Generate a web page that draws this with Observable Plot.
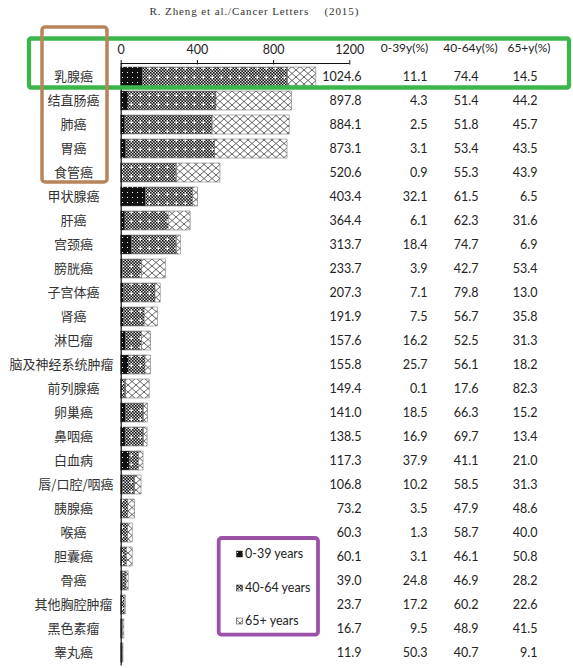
<!DOCTYPE html>
<html><head><meta charset="utf-8">
<script src="https://cdn.jsdelivr.net/npm/d3@7"></script>
<script src="https://cdn.jsdelivr.net/npm/@observablehq/plot@0.6"></script>
<style>
html,body{margin:0;padding:0;background:#fff;}
#chart{width:573px;height:668px;position:relative;}
</style></head><body><div id="chart"></div>
<script>
// ---- data ----
const cancers = ["乳腺癌","结直肠癌","肺癌","胃癌","食管癌","甲状腺癌","肝癌","宫颈癌","膀胱癌","子宫体癌","肾癌","淋巴瘤","脑及神经系统肿瘤","前列腺癌","卵巢癌","鼻咽癌","白血病","唇/口腔/咽癌","胰腺癌","喉癌","胆囊癌","骨癌","其他胸腔肿瘤","黑色素瘤","睾丸癌"];
const totals = [1024.6,897.8,884.1,873.1,520.6,403.4,364.4,313.7,233.7,207.3,191.9,157.6,155.8,149.4,141.0,138.5,117.3,106.8,73.2,60.3,60.1,39.0,23.7,16.7,11.9];
const pct0_39 = [11.1,4.3,2.5,3.1,0.9,32.1,6.1,18.4,3.9,7.1,7.5,16.2,25.7,0.1,18.5,16.9,37.9,10.2,3.5,1.3,3.1,24.8,17.2,9.5,50.3];
const pct40_64 = [74.4,51.4,51.8,53.4,55.3,61.5,62.3,74.7,42.7,79.8,56.7,52.5,56.1,17.6,66.3,69.7,41.1,58.5,47.9,58.7,46.1,46.9,60.2,48.9,40.7];
const pct65 = [14.5,44.2,45.7,43.5,43.9,6.5,31.6,6.9,53.4,13.0,35.8,31.3,18.2,82.3,15.2,13.4,21.0,31.3,48.6,40.0,50.8,28.2,22.6,41.5,9.1];
const ageGroups = ["0-39 years","40-64 years","65+ years"];
const headers = ["0-39y(%)","40-64y(%)","65+y(%)"];
const xTicks = [0,400,800,1200];
const citation = "R. Zheng et al./Cancer Letters";
const citationYear = "(2015)";

// ---- derived tables ----
const pcts = [pct0_39, pct40_64, pct65];
const rows = cancers.map((name, i) => ({name, total: totals[i], p: pcts.map(a => a[i])}));
const segments = rows.flatMap(r => ageGroups.map((g, k) => ({name: r.name, group: g, value: r.total * r.p[k] / 100})));

// ---- layout ----
const W = 573, H = 668, ML = 120.7, MR = 223.7, MT = 63.5, MB = 2.5;
const RIGHT = W - MR;
const numFont = "Lato, 'Open Sans', sans-serif";
const cjkFont = "'Noto Sans CJK SC', sans-serif";
const serifFont = "'Liberation Serif', serif";
const colRight = [361, 427, 478, 537];
const headerCenter = [404, 470, 528.5];

const plot = Plot.plot({
  width: W, height: H,
  marginLeft: ML, marginRight: MR, marginTop: MT, marginBottom: MB,
  style: {fontFamily: numFont, fontSize: "12.5px", color: "#222", background: "white", overflow: "visible"},
  x: {domain: [0, 1200]},
  y: {domain: cancers, paddingInner: 0.21, paddingOuter: 0.105, axis: null},
  color: {domain: ageGroups, range: ["url(#pat0)", "url(#pat1)", "url(#pat2)"]},
  marks: [
    Plot.barX(segments, Plot.stackX({x: "value", y: "name", fill: "group", stroke: "#666", strokeWidth: 0.5})),
    Plot.ruleX([0], {stroke: "#111", strokeWidth: 1.2}),
    Plot.axisX(xTicks, {anchor: "top", tickSize: 4.5, tickPadding: 6, label: null, tickFormat: d => String(d), fontSize: 12.5, stroke: "#111", fill: "#222"}),
    // category labels
    Plot.text(cancers, {filter: d => d.length < 7, y: d => d, text: d => d, frameAnchor: "left", dx: 73 - ML, textAnchor: "middle", fontFamily: cjkFont, fontSize: 13, fill: "#333"}),
    Plot.text(cancers, {filter: d => d.length >= 7, y: d => d, text: d => d, frameAnchor: "left", dx: 113 - ML, textAnchor: "end", fontFamily: cjkFont, fontSize: 13, fill: "#333"}),
    // value columns
    Plot.text(rows, {y: "name", text: d => d.total.toFixed(1), frameAnchor: "right", dx: colRight[0] - RIGHT, textAnchor: "end", fill: "#222"}),
    ...[0, 1, 2].map(k => Plot.text(rows, {y: "name", text: d => d.p[k].toFixed(1), frameAnchor: "right", dx: colRight[k + 1] - RIGHT, textAnchor: "end", fill: "#222"})),
    // headers
    ...headers.map((h, k) => Plot.text([h], {frameAnchor: "top-right", dx: headerCenter[k] - RIGHT, dy: 47.5 - MT, textAnchor: "middle", lineAnchor: "middle", fontSize: 12, fill: "#222"})),
    // citation
    Plot.text([citation], {frameAnchor: "top-left", dx: 149 - ML, dy: 10.7 - MT, textAnchor: "start", lineAnchor: "middle", fontFamily: serifFont, fontSize: 11, fill: "#333"}),
    Plot.text([citationYear], {frameAnchor: "top-left", dx: 324 - ML, dy: 10.7 - MT, textAnchor: "start", lineAnchor: "middle", fontFamily: serifFont, fontSize: 11, fill: "#333"})
  ]
});

const svg = d3.select(plot);
// widen the citation like the monospaced original
svg.selectAll("text").filter(function() { return this.textContent === citation || this.textContent === citationYear; })
  .attr("letter-spacing", "0.9px");

// pattern definitions
const defs = svg.insert("defs", ":first-child");
// 0-39: black with sparse white dots
const p0 = defs.append("pattern").attr("id", "pat0").attr("patternUnits", "userSpaceOnUse").attr("width", 5).attr("height", 5);
p0.append("rect").attr("width", 5).attr("height", 5).attr("fill", "#111");
p0.append("rect").attr("x", 2).attr("y", 2).attr("width", 1).attr("height", 1).attr("fill", "#fff");
// 40-64: fine checker with white crosses
const c = 1.5, n = 6;
const p1 = defs.append("pattern").attr("id", "pat1").attr("patternUnits", "userSpaceOnUse").attr("width", c * n).attr("height", c * n);
p1.append("rect").attr("width", c * n).attr("height", c * n).attr("fill", "#111");
const plus = new Set(["2,3", "3,2", "3,3", "3,4", "4,3"]);
for (let i = 0; i < n; i++) for (let j = 0; j < n; j++) {
  if (plus.has(i + "," + j)) {
    p1.append("rect").attr("x", i * c).attr("y", j * c).attr("width", c).attr("height", c).attr("fill", "#fff");
  } else if ((i + j) % 2 === 1) {
    p1.append("rect").attr("x", i * c + 0.08).attr("y", j * c + 0.08).attr("width", 1.34).attr("height", 1.34).attr("fill", "#fff");
  }
}
// 65+: diagonal lattice
const p2 = defs.append("pattern").attr("id", "pat2").attr("patternUnits", "userSpaceOnUse").attr("width", 8).attr("height", 7);
p2.append("rect").attr("width", 8).attr("height", 7).attr("fill", "#fff");
p2.append("path").attr("d", "M0,0L8,7M8,0L0,7").attr("stroke", "#555").attr("stroke-width", 0.9).attr("fill", "none");

const x = plot.scale("x");
// top axis line
svg.append("line").attr("x1", x.apply(0)).attr("x2", x.apply(1200)).attr("y1", MT).attr("y2", MT).attr("stroke", "#111").attr("stroke-width", 1);

// legend
const leg = svg.append("g").attr("font-family", numFont).attr("font-size", 12.5).attr("fill", "#222").attr("text-anchor", "start");
const legY = [554, 588, 621];
ageGroups.forEach((g, k) => {
  leg.append("rect").attr("x", 236.5).attr("y", legY[k] - 3).attr("width", 6).attr("height", 6).attr("fill", `url(#pat${k})`).attr("stroke", "#333").attr("stroke-width", 0.5);
  leg.append("text").attr("x", 245).attr("y", legY[k]).attr("dy", "0.35em").attr("text-anchor", "start").text(g);
});

// annotation boxes
svg.append("rect").attr("x", 29).attr("y", 38.5).attr("width", 540).attr("height", 49)
  .attr("fill", "none").attr("stroke", "#3cb54a").attr("stroke-width", 4.3).attr("rx", 2);
svg.append("rect").attr("x", 42).attr("y", 27).attr("width", 65).attr("height", 155)
  .attr("fill", "none").attr("stroke", "#b8845c").attr("stroke-width", 3.5).attr("rx", 3);
svg.append("rect").attr("x", 218.7).attr("y", 538).attr("width", 99.3).attr("height", 96.7)
  .attr("fill", "none").attr("stroke", "#9c51a8").attr("stroke-width", 3.8).attr("rx", 3);

document.getElementById("chart").appendChild(plot);
</script></body></html>
